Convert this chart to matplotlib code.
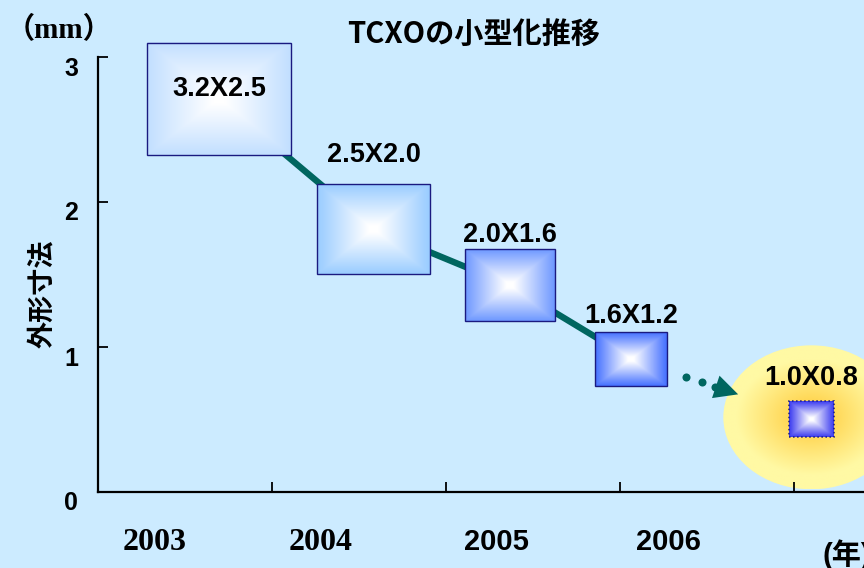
import numpy as np
import matplotlib
matplotlib.use('Agg')
import matplotlib.pyplot as plt
from matplotlib.patches import Rectangle, Ellipse
from matplotlib.colors import to_rgb
from matplotlib.transforms import ScaledTranslation

# データ (TCXO 外形寸法の推移)
size_labels = ['3.2X2.5', '2.5X2.0', '2.0X1.6', '1.6X1.2', '1.0X0.8']
size_w = [3.2, 2.5, 2.0, 1.6, 1.0]
size_h = [2.5, 2.0, 1.6, 1.2, 0.8]
pos_x = [0.70, 1.585, 2.37, 3.065, 4.10]
pos_y = [2.71, 1.815, 1.425, 0.92, 0.505]
years = ['2003', '2004', '2005', '2006']
y_ticks = [0, 1, 2, 3]

BG = '#CCEBFF'
TEAL = '#006660'
NAVY = '#1A1A80'
box_colors = ['#C2DFFF', '#99CCFF', '#6E98FF', '#4470FF', '#3B3BF0']

W, H = 864, 568
fig = plt.figure(figsize=(W / 100, H / 100), dpi=100, facecolor=BG)
ax = fig.add_axes([97.5 / W, 76 / H, 766.5 / W, 435 / H])
ax.patch.set_visible(False)
XMAX = 766.5 / 174.1
px_x = 174.1   # pixel / x-unit
px_y = 145.0   # pixel / y-unit
mm_px = 45.0   # pixel / mm for the package boxes

# 黄色い楕円 (最新サイズの強調)
ex, ey = pos_x[4], pos_y[4] + 0.01
ew, eh = 176 / px_x, 144 / px_y
gx = np.linspace(-1, 1, 200)
gy = np.linspace(-1, 1, 200)
GX, GY = np.meshgrid(gx, gy)
d = np.sqrt((GX * ew * px_x / 2 / 75) ** 2 + (GY * eh * px_y / 2 / 58) ** 2)
d = np.clip(d, 0, 1) ** 0.9
c_in = np.array(to_rgb('#FFC62E'))
c_out = np.array(to_rgb('#FFF9A4'))
img = c_in[None, None, :] * (1 - d[..., None]) + c_out[None, None, :] * d[..., None]
im = ax.imshow(img, extent=(ex - ew / 2, ex + ew / 2, ey - eh / 2, ey + eh / 2),
               aspect='auto', interpolation='bilinear', zorder=1)
ell = Ellipse((ex, ey), ew, eh, transform=ax.transData, facecolor='none', edgecolor='none')
ax.add_patch(ell)
im.set_clip_path(ell)

# 推移の線
ax.plot(pos_x[:4], pos_y[:4], color=TEAL, lw=4.6, solid_capstyle='butt', zorder=2)

# 点線の矢印
p4 = np.array([pos_x[3], pos_y[3]])
p5 = np.array([pos_x[4], pos_y[4]])
for t in [0.306, 0.394, 0.467]:
    p = p4 + t * (p5 - p4)
    ax.plot(p[0], p[1], 'o', color=TEAL, ms=5.8, mec='none', zorder=2)
ax.annotate('', xy=p4 + 0.594 * (p5 - p4), xytext=p4 + 0.47 * (p5 - p4),
            arrowprops=dict(arrowstyle='-|>,head_length=1.7,head_width=0.85',
                            color=TEAL, lw=0, shrinkA=0, shrinkB=0),
            zorder=2)

# パッケージの箱
label_off = [None, 29, 14, 16, 23]
for i in range(5):
    w = size_w[i] * mm_px / px_x
    h = size_h[i] * mm_px / px_y
    x0, y0 = pos_x[i] - w / 2, pos_y[i] - h / 2
    u = np.linspace(-1, 1, 120)
    U, V = np.meshgrid(u, u)
    t = np.maximum(np.abs(U), np.abs(V))
    t = np.clip((t - 0.08) / 0.92, 0, 1)
    edge = np.array(to_rgb(box_colors[i]))
    box = (1 - t[..., None]) * 1.0 + t[..., None] * edge[None, None, :]
    ax.imshow(box, extent=(x0, x0 + w, y0, y0 + h), aspect='auto',
              interpolation='bilinear', zorder=3, clip_on=False)
    ax.add_patch(Rectangle((x0, y0), w, h, fill=False, edgecolor=NAVY,
                           lw=1.0 if i < 4 else 1.1, ls='-' if i < 4 else ':',
                           zorder=3.5, clip_on=False))
    if label_off[i] is None:
        ly = pos_y[i] + 10 / px_y
    else:
        ly = pos_y[i] + h / 2 + label_off[i] / px_y
    ax.text(pos_x[i], ly, size_labels[i], ha='center', va='center',
            fontsize=19.5, fontweight='bold', family=['Liberation Sans', 'DejaVu Sans'],
            zorder=4, clip_on=False)

# 軸
ax.set_xlim(0, XMAX)
ax.set_ylim(0, 3)
for s in ['top', 'right']:
    ax.spines[s].set_visible(False)
for s in ['left', 'bottom']:
    ax.spines[s].set_linewidth(1.6)
ax.set_xticks([1, 2, 3, 4])
ax.set_xticklabels([])
ax.set_yticks(y_ticks)
ax.set_yticklabels([str(v) for v in y_ticks])
ax.tick_params(axis='both', direction='in', length=7.2, width=1.3)
ax.tick_params(axis='y', pad=14)
for lab in ax.get_yticklabels():
    lab.set_family(['Liberation Sans Narrow', 'Liberation Sans'])
    lab.set_fontweight('bold')
    lab.set_fontsize(18)
    lab.set_transform(lab.get_transform() + ScaledTranslation(0, -9 / 100, fig.dpi_scale_trans))

# 年ラベル
year_x = [0.33, 1.28, 2.29, 3.28]
for i, yr in enumerate(years):
    if i < 2:
        fam, fs = ['Liberation Serif'], 23
    else:
        fam, fs = ['Liberation Sans Narrow', 'Liberation Sans'], 21
    ax.text(year_x[i], -58 / px_y, yr, ha='center', va='baseline', fontsize=fs,
            fontweight='bold', family=fam, clip_on=False)
fig.text(822 / W, 1 - 564 / H, '(年)', ha='left', va='baseline', fontsize=21,
         fontweight='bold', family=['Liberation Sans', 'Noto Sans CJK JP'])

# タイトル・単位・軸ラベル
fig.text(473.6 / W, 1 - 34 / H, 'TCXOの小型化推移', ha='center', va='center',
         fontsize=21, fontweight='bold', family=['Noto Sans CJK JP', 'DejaVu Sans'])
fig.text(59 / W, 1 - 30 / H, '（mm）', ha='center', va='center', fontsize=21,
         fontweight='bold', family=['Liberation Serif', 'Noto Sans CJK JP'])
fig.text(42.5 / W, 1 - 294 / H, '外形寸法', ha='center', va='center', rotation=90,
         fontsize=19.5, fontweight='bold', family=['Noto Sans CJK JP', 'DejaVu Sans'])

fig.savefig('out.png', dpi=100, facecolor=BG)
